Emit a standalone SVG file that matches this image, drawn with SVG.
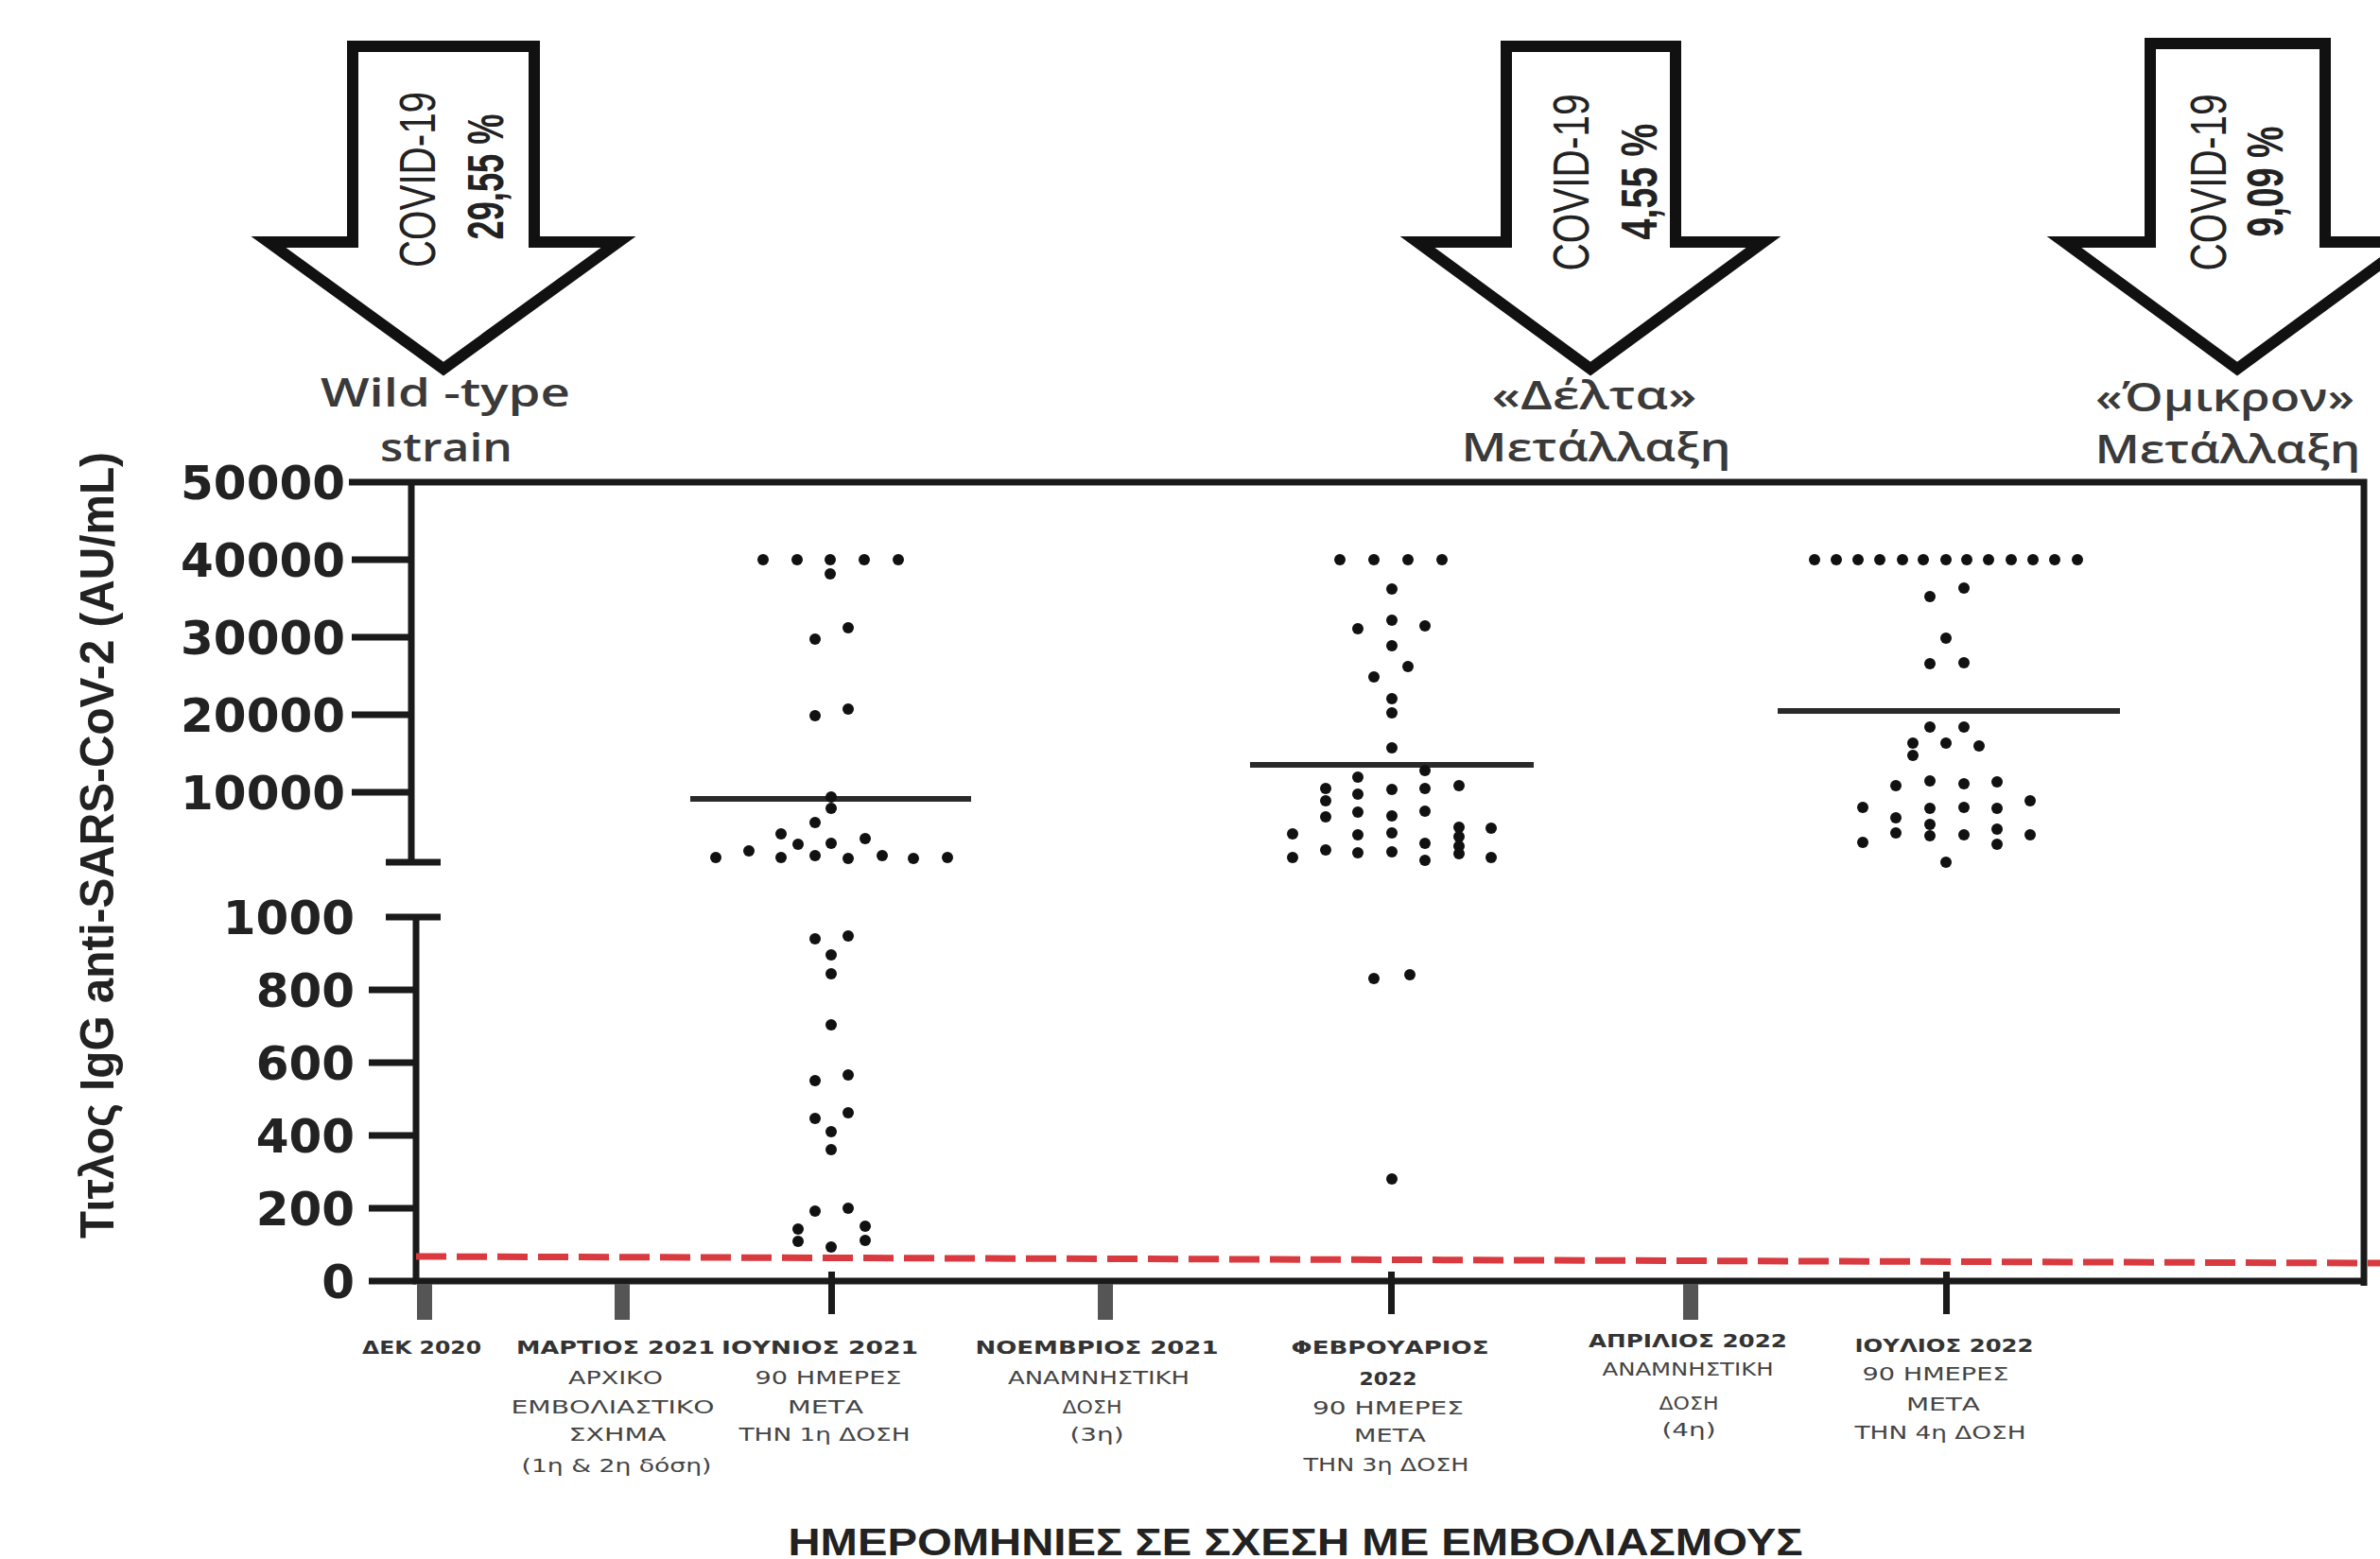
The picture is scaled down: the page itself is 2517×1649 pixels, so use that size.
<svg xmlns="http://www.w3.org/2000/svg" width="2517" height="1649" viewBox="0 0 2517 1649">
<style>
.ax{stroke:#1a1a1a;stroke-width:7;fill:none}
.gt{fill:#555}
.bt{fill:#1a1a1a}
.yl{font-family:"DejaVu Sans",sans-serif;font-weight:bold;font-size:50px;fill:#222;text-anchor:end}
.arrow{fill:#fff;stroke:#111;stroke-width:12;stroke-linejoin:miter}
.cv{font-family:"Liberation Sans",sans-serif;font-size:54px;fill:#222;text-anchor:middle}
.pc{font-family:"Liberation Sans",sans-serif;font-weight:bold;font-size:54px;fill:#222;text-anchor:middle}
.var{font-family:"Open Sans",sans-serif;font-weight:600;font-size:42px;fill:#3a3a3a;text-anchor:middle}
.xl{font-family:"DejaVu Sans",sans-serif;font-size:20px;fill:#444;text-anchor:middle}
.xb{font-weight:bold;fill:#333}
.ttl{font-family:"Liberation Sans",sans-serif;font-weight:bold;fill:#222;text-anchor:middle}
.med{stroke:#2a2a2a;stroke-width:6}
.d circle{fill:#111}
.red{stroke:#d93a3f;stroke-width:7;stroke-dasharray:32 11;fill:none}
</style>
<rect width="2517" height="1649" fill="#fff"/>

<g id="arrow-wild">
<path class="arrow" d="M373,49 L565,49 L565,256 L654,256 L469,390 L284,256 L373,256 Z"/>
<text class="cv" transform="translate(460,190) rotate(-90)" textLength="186" lengthAdjust="spacingAndGlyphs">COVID-19</text>
<text class="pc" transform="translate(532,187) rotate(-90)" textLength="133" lengthAdjust="spacingAndGlyphs">29,55 %</text>
<text class="var" x="471" y="430" textLength="264" lengthAdjust="spacingAndGlyphs">Wild  -type</text>
<text class="var" x="472" y="488" textLength="140" lengthAdjust="spacingAndGlyphs">strain</text>
</g>

<g id="arrow-delta">
<path class="arrow" d="M1593,49 L1772,49 L1772,256 L1865,256 L1682,390 L1499,256 L1593,256 Z"/>
<text class="cv" transform="translate(1680,193) rotate(-90)" textLength="187" lengthAdjust="spacingAndGlyphs">COVID-19</text>
<text class="pc" transform="translate(1752,192) rotate(-90)" textLength="123" lengthAdjust="spacingAndGlyphs">4,55 %</text>
<text class="var" x="1686" y="433" textLength="217" lengthAdjust="spacingAndGlyphs">«Δέλτα»</text>
<text class="var" x="1688" y="488" textLength="285" lengthAdjust="spacingAndGlyphs">Μετάλλαξη</text>
</g>

<g id="arrow-omicron">
<path class="arrow" d="M2274,46 L2459,46 L2459,256 L2549,256 L2366,390 L2183,256 L2274,256 Z"/>
<text class="cv" transform="translate(2354,193) rotate(-90)" textLength="187" lengthAdjust="spacingAndGlyphs">COVID-19</text>
<text class="pc" transform="translate(2414,192) rotate(-90)" textLength="117" lengthAdjust="spacingAndGlyphs">9,09 %</text>
<text class="var" x="2353" y="435" textLength="274" lengthAdjust="spacingAndGlyphs">«Όμικρον»</text>
<text class="var" x="2356" y="490" textLength="281" lengthAdjust="spacingAndGlyphs">Μετάλλαξη</text>
</g>

<g id="axes">
<path class="ax" d="M369,510 L2500,510 L2500,1360"/>
<path class="ax" d="M435,510 L435,912"/>
<path class="ax" d="M440,970 L440,1355 L2500,1355"/>
<path class="ax" d="M372,592 H435 M372,674 H435 M372,756 H435 M372,838 H435"/>
<path class="ax" d="M408,912 H466 M408,970 H466"/>
<path class="ax" d="M390,1047 H440 M390,1124 H440 M390,1201 H440 M390,1278 H440 M390,1355 H440"/>
<text class="yl" x="365" y="528">50000</text>
<text class="yl" x="365" y="610">40000</text>
<text class="yl" x="365" y="692">30000</text>
<text class="yl" x="365" y="774">20000</text>
<text class="yl" x="365" y="856">10000</text>
<text class="yl" x="375" y="988">1000</text>
<text class="yl" x="375" y="1065">800</text>
<text class="yl" x="375" y="1142">600</text>
<text class="yl" x="375" y="1219">400</text>
<text class="yl" x="375" y="1296">200</text>
<text class="yl" x="375" y="1373">0</text>
<text class="ttl" font-size="50" transform="translate(120,894) rotate(-90)" textLength="832" lengthAdjust="spacingAndGlyphs">Τιτλος IgG anti-SARS-CoV-2  (AU/mL)</text>
<rect class="gt" x="441" y="1358" width="16" height="38"/>
<rect class="gt" x="650" y="1358" width="16" height="38"/>
<rect class="gt" x="1161" y="1358" width="16" height="38"/>
<rect class="gt" x="1780" y="1358" width="16" height="38"/>
<rect class="bt" x="876" y="1345" width="7" height="45"/>
<rect class="bt" x="1468" y="1345" width="7" height="45"/>
<rect class="bt" x="2055" y="1345" width="7" height="45"/>
</g>

<g id="threshold">
<path class="red" d="M440,1329 L2517,1336"/>
</g>

<g id="xlabels">
<text class="xl xb" x="446" y="1432" textLength="126" lengthAdjust="spacingAndGlyphs">ΔΕΚ 2020</text>

<text class="xl xb" x="651" y="1432" textLength="210" lengthAdjust="spacingAndGlyphs">ΜΑΡΤΙΟΣ 2021</text>
<text class="xl" x="651" y="1464" textLength="100" lengthAdjust="spacingAndGlyphs">ΑΡΧΙΚΟ</text>
<text class="xl" x="648" y="1495" textLength="215" lengthAdjust="spacingAndGlyphs">ΕΜΒΟΛΙΑΣΤΙΚΟ</text>
<text class="xl" x="653" y="1524" textLength="103" lengthAdjust="spacingAndGlyphs">ΣΧΗΜΑ</text>
<text class="xl" x="652" y="1557" textLength="201" lengthAdjust="spacingAndGlyphs">(1η &amp; 2η δόση)</text>

<text class="xl xb" x="867" y="1432" textLength="208" lengthAdjust="spacingAndGlyphs">ΙΟΥΝΙΟΣ  2021</text>
<text class="xl" x="876" y="1464" textLength="155" lengthAdjust="spacingAndGlyphs">90 ΗΜΕΡΕΣ</text>
<text class="xl" x="873" y="1495" textLength="80" lengthAdjust="spacingAndGlyphs">ΜΕΤΑ</text>
<text class="xl" x="872" y="1524" textLength="181" lengthAdjust="spacingAndGlyphs">ΤΗΝ 1η ΔΟΣΗ</text>

<text class="xl xb" x="1160" y="1432" textLength="257" lengthAdjust="spacingAndGlyphs">ΝΟΕΜΒΡΙΟΣ  2021</text>
<text class="xl" x="1162" y="1464" textLength="192" lengthAdjust="spacingAndGlyphs">ΑΝΑΜΝΗΣΤΙΚΗ</text>
<text class="xl" x="1155" y="1495" textLength="63" lengthAdjust="spacingAndGlyphs">ΔΟΣΗ</text>
<text class="xl" x="1160" y="1524" textLength="57" lengthAdjust="spacingAndGlyphs">(3η)</text>

<text class="xl xb" x="1470" y="1432" textLength="209" lengthAdjust="spacingAndGlyphs">ΦΕΒΡΟΥΑΡΙΟΣ</text>
<text class="xl xb" x="1468" y="1465" textLength="61" lengthAdjust="spacingAndGlyphs">2022</text>
<text class="xl" x="1468" y="1496" textLength="160" lengthAdjust="spacingAndGlyphs">90 ΗΜΕΡΕΣ</text>
<text class="xl" x="1470" y="1525" textLength="76" lengthAdjust="spacingAndGlyphs">ΜΕΤΑ</text>
<text class="xl" x="1466" y="1556" textLength="175" lengthAdjust="spacingAndGlyphs">ΤΗΝ 3η ΔΟΣΗ</text>

<text class="xl xb" x="1785" y="1425" textLength="210" lengthAdjust="spacingAndGlyphs">ΑΠΡΙΛΙΟΣ  2022</text>
<text class="xl" x="1785" y="1455" textLength="181" lengthAdjust="spacingAndGlyphs">ΑΝΑΜΝΗΣΤΙΚΗ</text>
<text class="xl" x="1786" y="1491" textLength="63" lengthAdjust="spacingAndGlyphs">ΔΟΣΗ</text>
<text class="xl" x="1786" y="1519" textLength="57" lengthAdjust="spacingAndGlyphs">(4η)</text>

<text class="xl xb" x="2056" y="1430" textLength="189" lengthAdjust="spacingAndGlyphs">ΙΟΥΛΙΟΣ 2022</text>
<text class="xl" x="2047" y="1460" textLength="155" lengthAdjust="spacingAndGlyphs">90 ΗΜΕΡΕΣ</text>
<text class="xl" x="2055" y="1492" textLength="78" lengthAdjust="spacingAndGlyphs">ΜΕΤΑ</text>
<text class="xl" x="2052" y="1522" textLength="181" lengthAdjust="spacingAndGlyphs">ΤΗΝ 4η ΔΟΣΗ</text>

<text class="ttl" font-size="40" x="1370" y="1645" textLength="1073" lengthAdjust="spacingAndGlyphs">ΗΜΕΡΟΜΗΝΙΕΣ ΣΕ ΣΧΕΣΗ ΜΕ ΕΜΒΟΛΙΑΣΜΟΥΣ</text>
</g>

<g id="medians">
<line class="med" x1="730" y1="845" x2="1027" y2="845"/>
<line class="med" x1="1322" y1="809" x2="1622" y2="809"/>
<line class="med" x1="1880" y1="752" x2="2242" y2="752"/>
</g>

<g id="group-jun2021" class="d">
<circle cx="807" cy="592" r="6"/><circle cx="843" cy="592" r="6"/><circle cx="878" cy="592" r="6"/><circle cx="914" cy="592" r="6"/><circle cx="950" cy="592" r="6"/><circle cx="878" cy="607" r="6"/>
<circle cx="862" cy="676" r="6"/><circle cx="897" cy="664" r="6"/>
<circle cx="862" cy="757" r="6"/><circle cx="897" cy="750" r="6"/>
<circle cx="879" cy="843" r="6"/><circle cx="879" cy="855" r="6"/>
<circle cx="862" cy="870" r="6"/>
<circle cx="826" cy="882" r="6"/><circle cx="915" cy="887" r="6"/>
<circle cx="844" cy="893" r="6"/><circle cx="879" cy="892" r="6"/>
<circle cx="757" cy="907" r="6"/><circle cx="792" cy="900" r="6"/><circle cx="826" cy="907" r="6"/><circle cx="862" cy="905" r="6"/><circle cx="897" cy="908" r="6"/><circle cx="933" cy="905" r="6"/><circle cx="966" cy="908" r="6"/><circle cx="1002" cy="907" r="6"/>
<circle cx="862" cy="993" r="6"/><circle cx="897" cy="990" r="6"/><circle cx="879" cy="1010" r="6"/><circle cx="879" cy="1030" r="6"/>
<circle cx="879" cy="1084" r="6"/>
<circle cx="862" cy="1143" r="6"/><circle cx="897" cy="1137" r="6"/>
<circle cx="862" cy="1183" r="6"/><circle cx="897" cy="1177" r="6"/><circle cx="879" cy="1197" r="6"/><circle cx="879" cy="1216" r="6"/>
<circle cx="862" cy="1281" r="6"/><circle cx="897" cy="1278" r="6"/>
<circle cx="844" cy="1300" r="6"/><circle cx="844" cy="1313" r="6"/><circle cx="879" cy="1319" r="6"/><circle cx="915" cy="1297" r="6"/><circle cx="915" cy="1312" r="6"/>
</g>

<g id="group-feb2022" class="d">
<circle cx="1417" cy="592" r="6"/><circle cx="1453" cy="592" r="6"/><circle cx="1489" cy="592" r="6"/><circle cx="1525" cy="592" r="6"/>
<circle cx="1472" cy="623" r="6"/>
<circle cx="1472" cy="656" r="6"/><circle cx="1436" cy="665" r="6"/><circle cx="1507" cy="662" r="6"/>
<circle cx="1472" cy="683" r="6"/>
<circle cx="1489" cy="705" r="6"/><circle cx="1453" cy="716" r="6"/>
<circle cx="1472" cy="739" r="6"/><circle cx="1472" cy="754" r="6"/>
<circle cx="1472" cy="791" r="6"/>
<circle cx="1436" cy="822" r="6"/><circle cx="1507" cy="815" r="6"/>
<circle cx="1402" cy="834" r="6"/><circle cx="1436" cy="840" r="6"/><circle cx="1472" cy="835" r="6"/><circle cx="1507" cy="834" r="6"/><circle cx="1543" cy="831" r="6"/>
<circle cx="1402" cy="847" r="6"/><circle cx="1402" cy="864" r="6"/><circle cx="1436" cy="859" r="6"/><circle cx="1472" cy="863" r="6"/><circle cx="1507" cy="858" r="6"/>
<circle cx="1367" cy="882" r="6"/><circle cx="1436" cy="883" r="6"/><circle cx="1472" cy="881" r="6"/><circle cx="1543" cy="875" r="6"/><circle cx="1577" cy="876" r="6"/>
<circle cx="1543" cy="885" r="6"/><circle cx="1543" cy="895" r="6"/>
<circle cx="1367" cy="907" r="6"/><circle cx="1402" cy="899" r="6"/><circle cx="1436" cy="902" r="6"/><circle cx="1472" cy="901" r="6"/><circle cx="1507" cy="892" r="6"/><circle cx="1507" cy="910" r="6"/><circle cx="1543" cy="903" r="6"/><circle cx="1577" cy="907" r="6"/>
<circle cx="1453" cy="1035" r="6"/><circle cx="1491" cy="1031" r="6"/>
<circle cx="1472" cy="1247" r="6"/>
</g>

<g id="group-jul2022" class="d">
<circle cx="1919" cy="592" r="6"/><circle cx="1942" cy="592" r="6"/><circle cx="1965" cy="592" r="6"/><circle cx="1988" cy="592" r="6"/><circle cx="2012" cy="592" r="6"/><circle cx="2034" cy="592" r="6"/><circle cx="2058" cy="592" r="6"/><circle cx="2080" cy="592" r="6"/><circle cx="2103" cy="592" r="6"/><circle cx="2127" cy="592" r="6"/><circle cx="2150" cy="592" r="6"/><circle cx="2173" cy="592" r="6"/><circle cx="2197" cy="592" r="6"/>
<circle cx="2041" cy="631" r="6"/><circle cx="2077" cy="622" r="6"/>
<circle cx="2058" cy="675" r="6"/>
<circle cx="2041" cy="702" r="6"/><circle cx="2077" cy="701" r="6"/>
<circle cx="2041" cy="769" r="6"/><circle cx="2077" cy="769" r="6"/>
<circle cx="2023" cy="786" r="6"/><circle cx="2058" cy="786" r="6"/><circle cx="2093" cy="789" r="6"/><circle cx="2023" cy="799" r="6"/>
<circle cx="2005" cy="831" r="6"/><circle cx="2041" cy="826" r="6"/><circle cx="2077" cy="829" r="6"/><circle cx="2112" cy="827" r="6"/>
<circle cx="1970" cy="854" r="6"/><circle cx="2041" cy="855" r="6"/><circle cx="2077" cy="854" r="6"/><circle cx="2112" cy="855" r="6"/><circle cx="2147" cy="847" r="6"/>
<circle cx="2005" cy="865" r="6"/><circle cx="2041" cy="872" r="6"/><circle cx="2005" cy="881" r="6"/><circle cx="2041" cy="884" r="6"/><circle cx="2077" cy="883" r="6"/><circle cx="2112" cy="877" r="6"/><circle cx="2147" cy="883" r="6"/>
<circle cx="1970" cy="891" r="6"/><circle cx="2112" cy="893" r="6"/>
<circle cx="2058" cy="912" r="6"/>
</g>
</svg>
